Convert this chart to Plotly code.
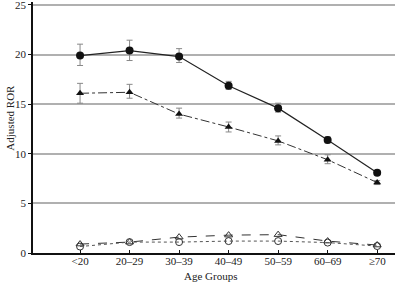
import plotly.graph_objects as go

categories = ["<20", "20–29", "30–39", "40–49", "50–59", "60–69", "≥70"]
positions = [1, 2, 3, 4, 5, 6, 7]

s1 = [19.9, 20.4, 19.8, 16.85, 14.6, 11.4, 8.1]
s1_hi = [21.05, 21.45, 20.6, 17.3, 15.1, 11.7, 8.3]
s1_lo = [18.9, 19.4, 19.2, 16.5, 14.2, 11.1, 7.9]

s2 = [16.1, 16.2, 14.0, 12.7, 11.3, 9.4, 7.1]
s2_hi = [17.1, 17.0, 14.6, 13.2, 11.8, 9.9, 7.3]
s2_lo = [15.1, 15.6, 13.6, 12.2, 10.9, 9.0, 6.9]

s3 = [0.9, 1.1, 1.6, 1.8, 1.85, 1.2, 0.8]
s4 = [0.65, 1.1, 1.1, 1.2, 1.2, 1.05, 0.7]

y_ticks = [0, 5, 10, 15, 20, 25]

def err(v, hi, lo):
    return dict(type="data", symmetric=False,
                array=[h - x for h, x in zip(hi, v)],
                arrayminus=[x - l for x, l in zip(v, lo)],
                color="#888888", thickness=1, width=3)

fig = go.Figure()
fig.add_trace(go.Scatter(x=positions, y=s1, mode="lines+markers",
                         line=dict(color="#222222", width=1.2, dash="solid"),
                         marker=dict(symbol="circle", size=8, color="#111111"),
                         error_y=err(s1, s1_hi, s1_lo), cliponaxis=False))
fig.add_trace(go.Scatter(x=positions, y=s2, mode="lines+markers",
                         line=dict(color="#333333", width=1, dash="dashdot"),
                         marker=dict(symbol="triangle-up", size=7, color="#111111"),
                         error_y=err(s2, s2_hi, s2_lo), cliponaxis=False))
fig.add_trace(go.Scatter(x=positions, y=s3, mode="lines+markers",
                         line=dict(color="#333333", width=1, dash="dash"),
                         marker=dict(symbol="triangle-up-open", size=7, color="#333333",
                                     line=dict(width=1)), cliponaxis=False))
fig.add_trace(go.Scatter(x=positions, y=s4, mode="lines+markers",
                         line=dict(color="#555555", width=1, dash="dot"),
                         marker=dict(symbol="circle-open", size=7, color="#333333",
                                     line=dict(width=1)), cliponaxis=False))

fig.update_layout(
    width=398, height=285,
    margin=dict(l=33, r=3, t=2, b=32, autoexpand=False),
    paper_bgcolor="white", plot_bgcolor="white",
    showlegend=False,
    font=dict(family="Liberation Serif, Times New Roman, serif", size=11, color="#222222"),
    annotations=[
        dict(text="Adjusted ROR", xref="paper", yref="paper",
             x=-0.063, y=0.54, textangle=-90, showarrow=False,
             xanchor="center", yanchor="middle", font=dict(size=11)),
        dict(text="Age Groups", xref="paper", yref="paper",
             x=0.49, y=-0.092, showarrow=False,
             xanchor="center", yanchor="middle", font=dict(size=11)),
    ],
)
fig.update_xaxes(
    range=[0.05, 7.36], tickmode="array", tickvals=positions, ticktext=categories,
    showgrid=False, zeroline=False, showline=True, linecolor="#111111", linewidth=1.5,
    ticks="inside", ticklen=3, tickcolor="#111111", automargin=False,
    ticklabelstandoff=-3,
)
fig.update_yaxes(
    range=[0, 25.3], tickmode="array", tickvals=y_ticks,
    showgrid=True, gridcolor="#b0b0b0", gridwidth=1.5, zeroline=False,
    showline=True, linecolor="#111111", linewidth=1.5,
    ticks="outside", ticklen=3, tickcolor="#111111", automargin=False,
    ticklabeloverflow="allow",
)

fig.write_html("out.html", config={"displayModeBar": False},
               post_script="document.body.style.margin='0';document.body.style.overflow='hidden';")
